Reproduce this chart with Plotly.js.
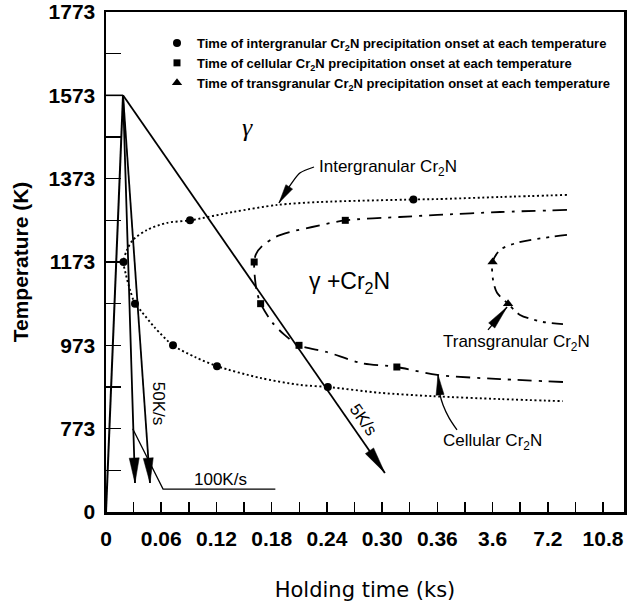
<!DOCTYPE html>
<html><head><meta charset="utf-8">
<script src="https://cdn.plot.ly/plotly-3.0.1.min.js"></script>
<style>html,body{margin:0;padding:0;background:#fff}</style>
</head><body><div id="chart" style="width:632px;height:604px"></div>
<script>
// ---------- axis ticks (real units) ----------
const xTickVals = [0, 0.06, 0.12, 0.18, 0.24, 0.30, 0.36, 3.6, 7.2, 10.8];
const xTickText = ['0','0.06','0.12','0.18','0.24','0.30','0.36','3.6','7.2','10.8'];
const yTickVals = [0, 773, 973, 1173, 1373, 1573, 1773];
const yTickText = ['0','773','973','1173','1373','1573','1773'];

// ---------- intergranular Cr2N (dotted C-curve) ----------
const interCurveTime = [8.45, 4.09, 0.36, 0.334, 0.2325, 0.186, 0.138, 0.0913, 0.0663, 0.0446, 0.0293, 0.0228, 0.019, 0.0217, 0.0261, 0.0315, 0.039, 0.0532, 0.0728, 0.0967, 0.1206, 0.167, 0.211, 0.241, 0.298, 0.355, 4.09, 8.19];
const interCurveTemp = [1334, 1329, 1324, 1323, 1317, 1310, 1293, 1273, 1267, 1250, 1226, 1202, 1173, 1142, 1106, 1073, 1053, 1015, 973, 945, 923, 895, 878, 873, 859, 851, 844, 839];
const interPtsTime = [0.019, 0.0315, 0.0728, 0.1206, 0.241, 0.0913, 0.334];
const interPtsTemp = [1173, 1073, 973, 923, 873, 1273, 1323];

// ---------- cellular Cr2N (dash-dot C-curve) ----------
const cellCurveTime = [8.45, 4.09, 0.36, 0.319, 0.260, 0.224, 0.200, 0.184, 0.1695, 0.163, 0.161, 0.162, 0.164, 0.168, 0.181, 0.194, 0.2097, 0.240, 0.276, 0.316, 0.36, 4.09, 8.19];
const cellCurveTemp = [1298, 1293, 1286, 1281, 1273, 1257, 1245, 1233, 1211, 1192, 1173, 1130, 1101, 1073, 1027, 998, 973, 957, 931, 921, 902, 892, 885];
const cellPtsTime = [0.161, 0.168, 0.2097, 0.316, 0.260];
const cellPtsTemp = [1173, 1073, 973, 921, 1273];

// ---------- transgranular Cr2N (dash-dot-dot C-curve) ----------
const transCurveTime = [8.45, 7.35, 5.19, 4.09, 3.6, 3.63, 3.89, 4.61, 5.39, 6.89, 8.19];
const transCurveTemp = [1238, 1233, 1219, 1202, 1173, 1130, 1099, 1073, 1046, 1029, 1024];
const transPtsTime = [3.6, 4.61];
const transPtsTemp = [1173, 1073];

// ---------- thermal cycle ----------
const peakTime = 0.0185, peakTemp = 1573;
const heatTime = [0, peakTime], heatTemp = [0, peakTemp];
const holdTime = [0, peakTime], holdTemp = [peakTemp, peakTemp];
const cool100Time = [peakTime, 0.0315], cool100Temp = [peakTemp, 269];
const cool50Time  = [peakTime, 0.0478], cool50Temp  = [peakTemp, 269];
const cool5Time   = [peakTime, 0.303],  cool5Temp   = [peakTemp, 362];
const lead100Time = [0.029, 0.062, 0.184], lead100Temp = [773, 213, 213];

// ---------- label leaders ----------
const leadInterTime = [0.226, 0.211, 0.201, 0.188], leadInterTemp = [1401, 1387, 1360, 1315];
const leadCellTime  = [1.513, 1.047, 0.694, 0.519, 0.399], leadCellTemp = [761, 799, 830, 854, 902];
const leadTransTime = [3.334, 4.543], leadTransTemp = [1010, 1065];

// ---------- piecewise axis mapping built from the tick arrays ----------
function interp(v, vals) {
  const n = vals.length;
  if (v <= vals[0]) return (v - vals[0]) / (vals[1] - vals[0]);
  for (let i = 1; i < n; i++) if (v <= vals[i]) return i - 1 + (v - vals[i-1]) / (vals[i] - vals[i-1]);
  return n - 1 + (v - vals[n-1]) / (vals[n-1] - vals[n-2]);
}
const xPos = t => interp(t, xTickVals);
const yPos = T => interp(T, yTickVals);
const X = a => a.map(xPos), Y = a => a.map(yPos);

const XMAX = 9.38, YMAX = 6;
const ML = 106, MR = 8, MT = 12, MB = 92, W = 632, H = 604;
const PXU = (W - ML - MR) / XMAX, PXV = (H - MT - MB) / YMAX;

function arrowHead(tipT, tipK, fromT, fromK, len, wid) {
  const ux = xPos(tipT), uy = yPos(tipK);
  let dx = (ux - xPos(fromT)) * PXU, dy = (uy - yPos(fromK)) * PXV;
  const n = Math.hypot(dx, dy); dx /= n; dy /= n;
  const bx = -dx * len, by = -dy * len, px = -dy * wid / 2, py = dx * wid / 2;
  return {type:'path', xref:'x', yref:'y', xsizemode:'pixel', ysizemode:'pixel', xanchor:ux, yanchor:uy,
    path:`M0,0 L${(bx+px).toFixed(2)},${(by+py).toFixed(2)} L${(bx-px).toFixed(2)},${(by-py).toFixed(2)} Z`,
    fillcolor:'#000', line:{color:'#000', width:0.5}, layer:'above'};
}

const blk = '#000';
function line(xs, ys, width, dash, shape) {
  return {x:X(xs), y:Y(ys), mode:'lines', showlegend:false, hoverinfo:'skip',
    line:{color:blk, width:width, dash:dash || 'solid', shape:shape || 'linear', smoothing:0.8}};
}

const traces = [
  line(interCurveTime, interCurveTemp, 1.9, '2px,2.6px', 'spline'),
  line(cellCurveTime, cellCurveTemp, 1.8, '14px,7px,3px,7px', 'spline'),
  line(transCurveTime, transCurveTemp, 1.8, '12px,6px,3px,6px,3px,6px', 'spline'),
  line(heatTime, heatTemp, 2),
  line(holdTime, holdTemp, 1.6),
  line(cool100Time, cool100Temp, 1.8),
  line(cool50Time, cool50Temp, 1.8),
  line(cool5Time, cool5Temp, 1.8),
  line(lead100Time, lead100Temp, 1.3),
  line(leadInterTime, leadInterTemp, 1.3, 'solid', 'spline'),
  line(leadCellTime, leadCellTemp, 1.3, 'solid', 'spline'),
  line(leadTransTime, leadTransTemp, 1.3),
  {x:X(interPtsTime), y:Y(interPtsTemp), mode:'markers', name:'Time of intergranular Cr<sub>2</sub>N precipitation onset at each temperature',
   marker:{symbol:'circle', size:8, color:blk}, hoverinfo:'skip'},
  {x:X(cellPtsTime), y:Y(cellPtsTemp), mode:'markers', name:'Time of cellular Cr<sub>2</sub>N precipitation onset at each temperature',
   marker:{symbol:'square', size:7, color:blk}, hoverinfo:'skip'},
  {x:X(transPtsTime), y:Y(transPtsTemp), mode:'markers', name:'Time of transgranular Cr<sub>2</sub>N precipitation onset at each temperature',
   marker:{symbol:'triangle-up', size:9, color:blk}, hoverinfo:'skip'}
];

const shapes = [
  arrowHead(cool100Time[1], cool100Temp[1], cool100Time[0], cool100Temp[0], 25, 10),
  arrowHead(cool50Time[1], cool50Temp[1], cool50Time[0], cool50Temp[0], 25, 10),
  arrowHead(cool5Time[1], cool5Temp[1], cool5Time[0], cool5Temp[0], 27, 10),
  arrowHead(leadInterTime[3], leadInterTemp[3], leadInterTime[2], leadInterTemp[2], 19, 8),
  arrowHead(leadCellTime[4], leadCellTemp[4], leadCellTime[3], leadCellTemp[3], 20, 8),
  arrowHead(leadTransTime[1], leadTransTemp[1], leadTransTime[0], leadTransTemp[0], 24, 8)
];

const lf = {family:'Liberation Sans, Arial, sans-serif', size:17, color:blk};
function ann(t, K, text, extra) {
  return Object.assign({x:xPos(t), y:yPos(K), xref:'x', yref:'y', text:text, showarrow:false, font:lf}, extra || {});
}
const annotations = [
  ann(0.154, 1497, 'γ', {font:{family:'Liberation Serif, serif', size:26, color:blk, style:'italic'}}),
  ann(0.265, 1123, 'γ +Cr<sub>2</sub>N', {font:{family:'Liberation Sans, Arial, sans-serif', size:23, color:blk}}),
  ann(0.306, 1399, 'Intergranular Cr<sub>2</sub>N'),
  ann(3.568, 649, 'Cellular Cr<sub>2</sub>N'),
  ann(5.13, 979, 'Transgranular Cr<sub>2</sub>N'),
  ann(0.124, 306, '100K/s'),
  ann(0.0565, 835, '50K/s', {textangle:90}),
  ann(0.279, 794, '5K/s', {textangle:55})
];

const tickFont = {family:'Liberation Sans, Arial, sans-serif', size:21, color:blk, weight:'bold'};
const xMajor = xTickVals.map(xPos), yMajor = yTickVals.map(yPos);
const minorStyle = {tick0:0, dtick:0.5, ticks:'inside', tickwidth:1.5, tickcolor:blk, showgrid:false};

const layout = {
  width:W, height:H, margin:{l:ML, r:MR, t:MT, b:MB},
  paper_bgcolor:'#fff', plot_bgcolor:'#fff',
  showlegend:true,
  legend:{x:(157-ML)/(W-ML-MR), y:1-(28-MT)/(H-MT-MB), xanchor:'left', yanchor:'top', bgcolor:'rgba(0,0,0,0)',
    font:{family:'Liberation Sans, Arial, sans-serif', size:13, color:blk, weight:'bold'}, tracegroupgap:0},
  xaxis:{range:[0, XMAX], tickmode:'array', tickvals:xMajor, ticktext:xTickText, ticks:'inside', ticklen:10, tickwidth:1.5,
    tickcolor:blk, showgrid:false, zeroline:false, showline:true, linewidth:2.5, linecolor:blk, mirror:true,
    tickfont:tickFont, ticklabelstandoff:6,
    minor:Object.assign({ticklen:10}, minorStyle),
    title:{text:'Holding time (ks)', font:{family:'DejaVu Sans, sans-serif', size:21, color:blk}, standoff:34}},
  yaxis:{range:[0, YMAX], tickmode:'array', tickvals:yMajor, ticktext:yTickText, ticks:'inside', ticklen:15, tickwidth:1.5,
    tickcolor:blk, showgrid:false, zeroline:false, showline:true, linewidth:2.5, linecolor:blk, mirror:true,
    tickfont:tickFont, ticklabelstandoff:4,
    minor:Object.assign({ticklen:15}, minorStyle),
    title:{text:'Temperature (K)', font:{family:'Liberation Sans, Arial, sans-serif', size:21, color:blk, weight:'bold'}, standoff:14}},
  shapes:shapes, annotations:annotations
};

Plotly.newPlot('chart', traces, layout, {displayModeBar:false, staticPlot:true});
</script></body></html>
